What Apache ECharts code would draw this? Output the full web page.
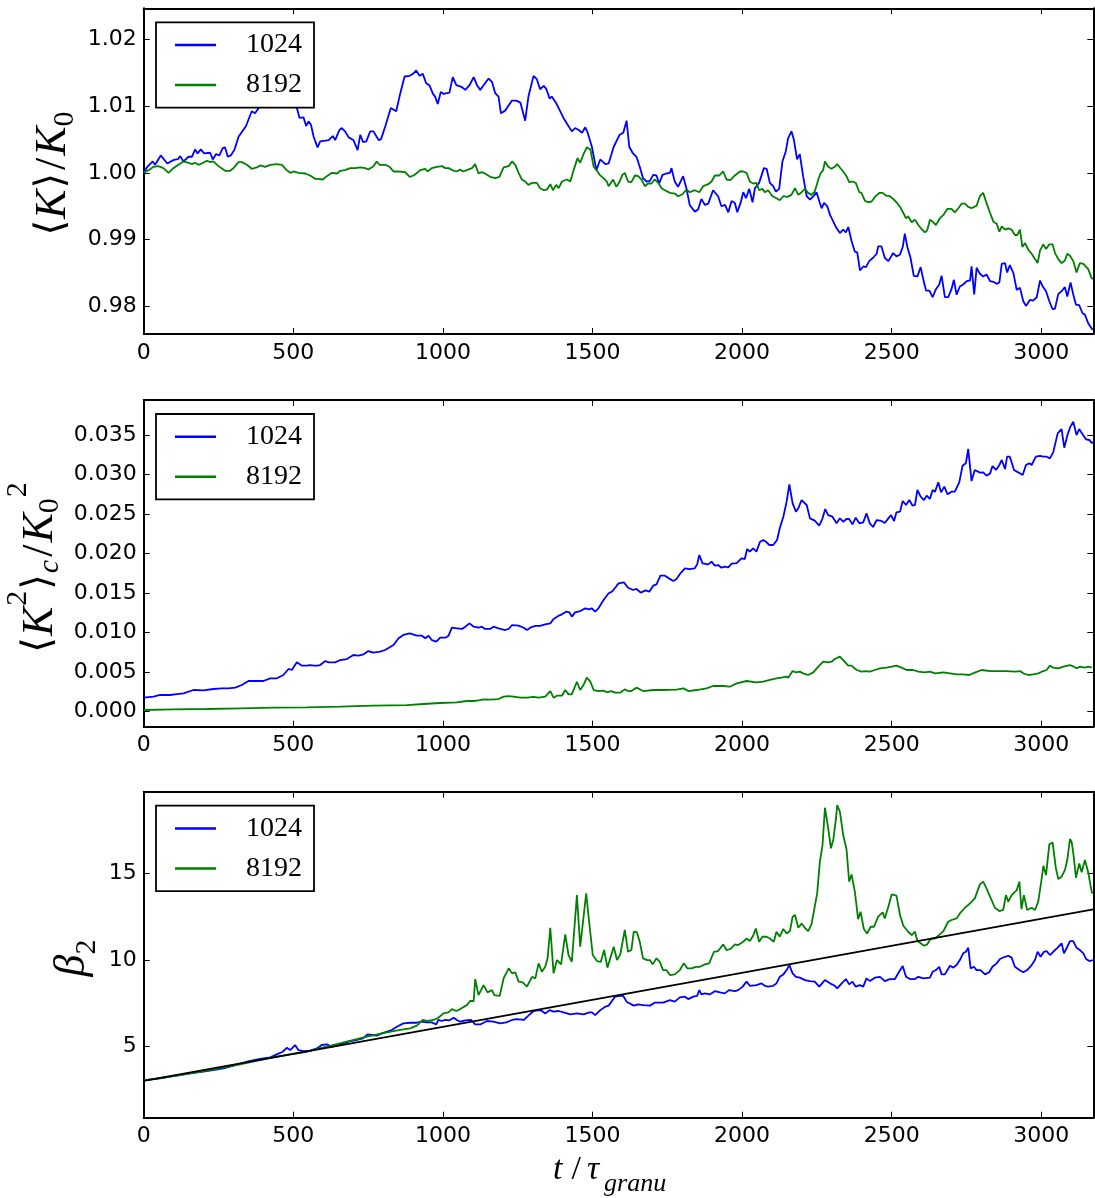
<!DOCTYPE html>
<html><head><meta charset="utf-8">
<script src="https://cdn.jsdelivr.net/npm/echarts@6/dist/echarts.min.js"></script>
<style>html,body{margin:0;padding:0;background:#fff}#c{width:1095px;height:1198px}</style>
</head><body><div id="c"></div>
<script>
// ---------- data ----------
const seriesNames = ['1024', '8192'];
const xTicks = [0, 500, 1000, 1500, 2000, 2500, 3000];
const kTicks = [0.98, 0.99, 1.00, 1.01, 1.02];
const k2Ticks = [0, 0.005, 0.010, 0.015, 0.020, 0.025, 0.030, 0.035];
const betaTicks = [5, 10, 15];

// <K>/K0
const meanK_1024 = [[0,1.0000],[12,1.0009],[30,1.0017],[38,1.0012],[57,1.0026],[79,1.0014],[99,1.0019],[116,1.0021],[122,1.0025],[133,1.0017],[150,1.0024],[161,1.0024],[172,1.0035],[180,1.0029],[191,1.0035],[202,1.0029],[222,1.0030],[231,1.0020],[242,1.0028],[253,1.0026],[264,1.0037],[272,1.0038],[281,1.0024],[291,1.0026],[303,1.0034],[317,1.0054],[342,1.0070],[361,1.0092],[372,1.0089],[389,1.0100],[405,1.0108],[425,1.0112],[445,1.0118],[465,1.0113],[485,1.0120],[500,1.0110],[512,1.0097],[521,1.0082],[534,1.0083],[543,1.0070],[551,1.0077],[559,1.0072],[568,1.0054],[581,1.0038],[590,1.0047],[607,1.0048],[618,1.0049],[623,1.0047],[632,1.0055],[640,1.0049],[654,1.0064],[662,1.0067],[673,1.0062],[685,1.0053],[701,1.0049],[715,1.0034],[724,1.0057],[733,1.0046],[744,1.0047],[757,1.0062],[768,1.0062],[785,1.0049],[793,1.0050],[807,1.0069],[813,1.0070],[826,1.0097],[844,1.0092],[855,1.0114],[872,1.0144],[889,1.0145],[900,1.0148],[911,1.0153],[922,1.0145],[933,1.0148],[944,1.0134],[955,1.0131],[967,1.0118],[974,1.0114],[983,1.0103],[993,1.0121],[1002,1.0118],[1022,1.0120],[1033,1.0143],[1045,1.0131],[1064,1.0128],[1075,1.0124],[1089,1.0131],[1103,1.0143],[1114,1.0131],[1125,1.0124],[1136,1.0131],[1153,1.0141],[1164,1.0136],[1175,1.0119],[1186,1.0114],[1194,1.0089],[1208,1.0093],[1231,1.0108],[1245,1.0108],[1259,1.0105],[1275,1.0078],[1286,1.0114],[1303,1.0145],[1314,1.0140],[1325,1.0125],[1337,1.0130],[1345,1.0126],[1357,1.0111],[1364,1.0114],[1379,1.0104],[1390,1.0094],[1403,1.0082],[1417,1.0072],[1431,1.0062],[1442,1.0067],[1454,1.0064],[1465,1.0060],[1476,1.0068],[1484,1.0060],[1498,1.0039],[1513,1.0004],[1526,1.0020],[1543,1.0013],[1554,1.0014],[1571,1.0039],[1591,1.0057],[1603,1.0060],[1614,1.0078],[1623,1.0039],[1634,1.0030],[1647,1.0024],[1658,1.0009],[1669,0.9992],[1681,0.9987],[1692,0.9988],[1703,0.9997],[1714,0.9996],[1723,0.9984],[1734,0.9997],[1747,0.9999],[1759,1.0000],[1764,1.0007],[1775,0.9987],[1786,0.9979],[1803,0.9995],[1814,0.9977],[1825,0.9952],[1842,0.9942],[1853,0.9945],[1864,0.9961],[1876,0.9952],[1887,0.9954],[1903,0.9974],[1920,0.9965],[1931,0.9950],[1943,0.9952],[1954,0.9941],[1965,0.9958],[1976,0.9955],[1984,0.9941],[1995,0.9955],[2004,0.9971],[2013,0.9962],[2024,0.9976],[2035,0.9956],[2043,0.9977],[2057,0.9985],[2073,1.0007],[2082,1.0006],[2093,0.9985],[2104,0.9980],[2113,0.9972],[2124,0.9976],[2135,1.0017],[2146,1.0032],[2154,1.0052],[2165,1.0062],[2173,1.0050],[2184,1.0020],[2193,1.0028],[2204,0.9995],[2216,0.9965],[2227,0.9960],[2240,0.9966],[2249,0.9971],[2260,0.9955],[2266,0.9947],[2274,0.9955],[2285,0.9950],[2294,0.9937],[2305,0.9927],[2316,0.9917],[2327,0.9910],[2338,0.9915],[2347,0.9911],[2355,0.9919],[2366,0.9898],[2377,0.9882],[2385,0.9881],[2394,0.9854],[2405,0.9860],[2414,0.9859],[2425,0.9868],[2438,0.9873],[2450,0.9879],[2455,0.9890],[2466,0.9890],[2477,0.9873],[2489,0.9868],[2505,0.9880],[2516,0.9875],[2528,0.9878],[2537,0.9889],[2544,0.9909],[2552,0.9890],[2563,0.9873],[2574,0.9846],[2586,0.9845],[2597,0.9859],[2606,0.9840],[2615,0.9824],[2626,0.9824],[2637,0.9814],[2648,0.9826],[2659,0.9833],[2667,0.9846],[2678,0.9814],[2689,0.9814],[2700,0.9826],[2708,0.9840],[2717,0.9818],[2728,0.9830],[2739,0.9833],[2751,0.9838],[2762,0.9839],[2767,0.9860],[2776,0.9818],[2784,0.9858],[2795,0.9849],[2806,0.9845],[2817,0.9848],[2829,0.9838],[2840,0.9837],[2851,0.9834],[2860,0.9836],[2868,0.9864],[2879,0.9865],[2886,0.9851],[2895,0.9862],[2907,0.9850],[2918,0.9825],[2929,0.9828],[2940,0.9808],[2949,0.9801],[2962,0.9810],[2973,0.9809],[2985,0.9814],[2996,0.9839],[3005,0.9830],[3016,0.9823],[3027,0.9808],[3038,0.9796],[3046,0.9797],[3057,0.9819],[3068,0.9823],[3079,0.9829],[3087,0.9815],[3098,0.9836],[3107,0.9818],[3116,0.9803],[3127,0.9802],[3138,0.9790],[3146,0.9788],[3157,0.9775],[3172,0.9765]];
const meanK_8192 = [[0,1.0000],[16,1.0004],[33,1.0009],[49,1.0010],[66,1.0007],[83,1.0000],[99,1.0007],[116,1.0012],[133,1.0017],[150,1.0015],[161,1.0013],[172,1.0015],[183,1.0012],[194,1.0014],[211,1.0018],[224,1.0016],[233,1.0017],[250,1.0010],[272,1.0003],[289,1.0003],[300,1.0007],[317,1.0016],[328,1.0016],[345,1.0012],[361,1.0006],[378,1.0008],[389,1.0011],[406,1.0009],[423,1.0012],[445,1.0013],[462,1.0012],[478,1.0004],[490,1.0000],[501,1.0002],[517,1.0000],[540,0.9999],[556,0.9996],[573,0.9991],[584,0.9991],[599,0.9990],[612,0.9995],[629,1.0000],[646,0.9999],[657,1.0003],[673,1.0004],[690,1.0007],[707,1.0007],[724,1.0008],[740,1.0007],[751,1.0005],[768,1.0010],[779,1.0017],[788,1.0012],[807,1.0012],[822,1.0009],[835,1.0002],[852,1.0002],[874,1.0001],[889,0.9994],[902,0.9996],[911,0.9999],[924,1.0004],[941,1.0006],[949,1.0002],[963,1.0007],[980,1.0009],[997,1.0010],[1008,1.0007],[1019,1.0007],[1036,1.0003],[1047,1.0002],[1058,1.0005],[1067,1.0002],[1080,1.0004],[1097,1.0007],[1108,1.0013],[1119,0.9999],[1130,1.0001],[1141,0.9999],[1158,0.9994],[1175,0.9992],[1189,0.9994],[1203,1.0008],[1220,1.0010],[1231,1.0017],[1242,1.0012],[1253,1.0000],[1264,0.9990],[1275,0.9987],[1286,0.9982],[1298,0.9985],[1314,0.9985],[1325,0.9977],[1337,0.9974],[1348,0.9975],[1359,0.9983],[1368,0.9974],[1379,0.9982],[1387,0.9977],[1398,0.9987],[1415,0.9990],[1426,0.9987],[1437,1.0004],[1450,1.0022],[1459,1.0015],[1470,1.0028],[1481,1.0038],[1493,1.0035],[1504,1.0009],[1515,1.0003],[1524,0.9997],[1537,0.9992],[1548,0.9987],[1554,0.9980],[1569,0.9990],[1580,0.9979],[1591,0.9987],[1600,0.9997],[1608,1.0000],[1619,0.9987],[1630,0.9986],[1642,0.9996],[1653,0.9995],[1664,0.9990],[1675,0.9980],[1686,0.9984],[1697,0.9984],[1708,0.9990],[1720,0.9985],[1731,0.9977],[1742,0.9974],[1759,0.9970],[1775,0.9969],[1786,0.9965],[1801,0.9968],[1814,0.9975],[1825,0.9971],[1842,0.9974],[1857,0.9971],[1870,0.9980],[1887,0.9983],[1898,0.9987],[1909,0.9996],[1924,0.9996],[1937,1.0002],[1948,0.9990],[1961,0.9989],[1976,0.9996],[1993,1.0002],[2004,1.0002],[2015,1.0000],[2026,0.9987],[2037,0.9984],[2048,0.9985],[2057,0.9974],[2068,0.9976],[2076,0.9971],[2087,0.9974],[2102,0.9965],[2115,0.9962],[2126,0.9959],[2138,0.9965],[2151,0.9964],[2165,0.9967],[2177,0.9977],[2188,0.9967],[2199,0.9971],[2210,0.9976],[2221,0.9970],[2232,0.9967],[2243,0.9972],[2255,0.9990],[2262,0.9999],[2271,1.0004],[2277,1.0017],[2288,1.0009],[2299,1.0006],[2310,1.0009],[2318,1.0013],[2327,1.0008],[2338,1.0002],[2349,0.9995],[2358,0.9986],[2369,0.9987],[2380,0.9985],[2392,0.9971],[2399,0.9970],[2411,0.9958],[2422,0.9956],[2433,0.9957],[2444,0.9964],[2459,0.9970],[2470,0.9970],[2481,0.9966],[2494,0.9965],[2505,0.9961],[2516,0.9956],[2528,0.9949],[2539,0.9940],[2548,0.9932],[2555,0.9935],[2567,0.9926],[2578,0.9930],[2589,0.9922],[2600,0.9916],[2611,0.9911],[2619,0.9914],[2628,0.9930],[2639,0.9926],[2648,0.9922],[2661,0.9932],[2673,0.9937],[2686,0.9946],[2700,0.9946],[2711,0.9941],[2723,0.9947],[2734,0.9954],[2745,0.9954],[2756,0.9949],[2767,0.9947],[2784,0.9951],[2795,0.9965],[2806,0.9970],[2817,0.9955],[2829,0.9940],[2840,0.9927],[2851,0.9924],[2860,0.9912],[2868,0.9920],[2879,0.9915],[2890,0.9917],[2901,0.9915],[2912,0.9907],[2920,0.9907],[2929,0.9915],[2937,0.9889],[2946,0.9895],[2957,0.9885],[2968,0.9879],[2979,0.9871],[2988,0.9865],[2996,0.9884],[3007,0.9893],[3016,0.9886],[3027,0.9893],[3038,0.9893],[3046,0.9880],[3057,0.9871],[3068,0.9865],[3079,0.9869],[3087,0.9879],[3096,0.9876],[3107,0.9868],[3118,0.9851],[3129,0.9865],[3141,0.9864],[3146,0.9865],[3157,0.9856],[3168,0.9843],[3172,0.9841]];

// <K^2>_c/K0^2
const K2c_1024 = [[0,0.00177],[33,0.00190],[55,0.00211],[88,0.00211],[111,0.00223],[133,0.00232],[166,0.00274],[200,0.00270],[233,0.00287],[261,0.00295],[283,0.00295],[306,0.00304],[328,0.00337],[350,0.00388],[400,0.00388],[423,0.00422],[445,0.00422],[467,0.00464],[484,0.00540],[495,0.00527],[512,0.00624],[529,0.00582],[545,0.00582],[556,0.00590],[568,0.00582],[579,0.00582],[590,0.00590],[607,0.00641],[618,0.00624],[640,0.00624],[657,0.00653],[679,0.00666],[701,0.00717],[718,0.00708],[735,0.00725],[751,0.00767],[768,0.00746],[790,0.00759],[807,0.00780],[835,0.00843],[852,0.00928],[868,0.00970],[889,0.00991],[913,0.00961],[930,0.00961],[941,0.00928],[952,0.00961],[963,0.00906],[978,0.00885],[991,0.00936],[1008,0.00936],[1019,0.00961],[1030,0.01062],[1047,0.01054],[1064,0.01046],[1075,0.01075],[1089,0.01117],[1103,0.01075],[1119,0.01062],[1130,0.01075],[1141,0.01046],[1158,0.01046],[1169,0.01075],[1186,0.01054],[1208,0.01033],[1220,0.01046],[1231,0.01096],[1253,0.01088],[1270,0.01062],[1281,0.01033],[1292,0.01062],[1309,0.01084],[1325,0.01084],[1342,0.01105],[1359,0.01117],[1370,0.01172],[1387,0.01214],[1398,0.01231],[1412,0.01265],[1423,0.01256],[1431,0.01202],[1442,0.01256],[1459,0.01273],[1476,0.01307],[1487,0.01294],[1498,0.01307],[1509,0.01265],[1520,0.01307],[1537,0.01412],[1554,0.01497],[1565,0.01518],[1576,0.01568],[1587,0.01623],[1593,0.01636],[1605,0.01636],[1619,0.01568],[1636,0.01539],[1647,0.01552],[1661,0.01505],[1678,0.01535],[1690,0.01518],[1703,0.01594],[1714,0.01611],[1727,0.01720],[1742,0.01720],[1756,0.01686],[1770,0.01653],[1781,0.01678],[1794,0.01750],[1809,0.01813],[1825,0.01804],[1842,0.01813],[1850,0.01863],[1857,0.01982],[1868,0.01876],[1887,0.01863],[1898,0.01897],[1909,0.01847],[1920,0.01855],[1931,0.01821],[1942,0.01834],[1954,0.01826],[1965,0.01872],[1982,0.01880],[1998,0.01939],[2009,0.01931],[2017,0.02057],[2026,0.02024],[2037,0.02066],[2048,0.02024],[2060,0.02150],[2071,0.02171],[2082,0.02142],[2091,0.02108],[2104,0.02108],[2117,0.02171],[2126,0.02319],[2138,0.02466],[2149,0.02656],[2158,0.02875],[2169,0.02635],[2180,0.02530],[2188,0.02572],[2199,0.02677],[2216,0.02614],[2227,0.02445],[2243,0.02416],[2258,0.02353],[2269,0.02445],[2278,0.02563],[2288,0.02487],[2302,0.02466],[2307,0.02479],[2316,0.02382],[2327,0.02445],[2338,0.02403],[2349,0.02437],[2358,0.02437],[2369,0.02369],[2380,0.02454],[2392,0.02382],[2405,0.02395],[2416,0.02508],[2427,0.02382],[2438,0.02336],[2450,0.02424],[2466,0.02412],[2477,0.02386],[2489,0.02445],[2498,0.02487],[2508,0.02412],[2516,0.02521],[2528,0.02530],[2537,0.02664],[2548,0.02614],[2559,0.02677],[2570,0.02605],[2578,0.02614],[2586,0.02804],[2597,0.02719],[2608,0.02677],[2617,0.02732],[2628,0.02690],[2637,0.02804],[2645,0.02783],[2656,0.02901],[2665,0.02774],[2676,0.02846],[2687,0.02749],[2700,0.02783],[2711,0.02783],[2726,0.02901],[2737,0.03111],[2748,0.03141],[2756,0.03322],[2767,0.02917],[2778,0.03057],[2795,0.03023],[2806,0.03027],[2817,0.02985],[2829,0.03014],[2837,0.03107],[2849,0.03057],[2860,0.03120],[2868,0.03183],[2879,0.03069],[2886,0.03225],[2895,0.03225],[2909,0.03057],[2923,0.03027],[2938,0.02993],[2949,0.03120],[2960,0.03141],[2968,0.03120],[2982,0.03225],[2996,0.03234],[3007,0.03225],[3018,0.03225],[3029,0.03204],[3040,0.03280],[3055,0.03520],[3068,0.03575],[3077,0.03339],[3087,0.03491],[3096,0.03592],[3107,0.03668],[3118,0.03499],[3127,0.03575],[3138,0.03508],[3150,0.03444],[3161,0.03436],[3169,0.03394],[3172,0.03415]];
const K2c_8192 = [[0,0.00021],[99,0.00030],[211,0.00034],[322,0.00042],[434,0.00051],[545,0.00055],[657,0.00063],[768,0.00076],[880,0.00084],[935,0.00097],[991,0.00110],[1047,0.00118],[1080,0.00135],[1103,0.00135],[1108,0.00152],[1119,0.00143],[1136,0.00156],[1158,0.00152],[1186,0.00160],[1203,0.00190],[1220,0.00198],[1236,0.00190],[1259,0.00177],[1281,0.00177],[1303,0.00186],[1320,0.00177],[1342,0.00190],[1359,0.00261],[1370,0.00177],[1381,0.00202],[1398,0.00202],[1409,0.00274],[1420,0.00219],[1431,0.00219],[1448,0.00379],[1459,0.00274],[1470,0.00337],[1481,0.00430],[1493,0.00379],[1504,0.00274],[1520,0.00261],[1537,0.00266],[1548,0.00245],[1562,0.00261],[1576,0.00240],[1593,0.00240],[1608,0.00282],[1619,0.00261],[1630,0.00261],[1647,0.00304],[1669,0.00261],[1703,0.00274],[1736,0.00274],[1781,0.00278],[1805,0.00295],[1820,0.00261],[1848,0.00274],[1881,0.00295],[1903,0.00325],[1937,0.00325],[1959,0.00316],[1982,0.00358],[2015,0.00388],[2048,0.00371],[2071,0.00379],[2093,0.00401],[2115,0.00422],[2132,0.00430],[2146,0.00443],[2154,0.00430],[2169,0.00514],[2180,0.00497],[2193,0.00506],[2204,0.00485],[2221,0.00464],[2238,0.00497],[2255,0.00569],[2271,0.00632],[2288,0.00624],[2299,0.00632],[2310,0.00666],[2327,0.00696],[2338,0.00653],[2355,0.00582],[2366,0.00582],[2383,0.00527],[2399,0.00506],[2414,0.00514],[2427,0.00506],[2444,0.00527],[2461,0.00548],[2483,0.00557],[2500,0.00569],[2516,0.00582],[2533,0.00557],[2550,0.00527],[2572,0.00527],[2589,0.00506],[2611,0.00497],[2628,0.00506],[2645,0.00485],[2673,0.00497],[2695,0.00485],[2717,0.00472],[2739,0.00472],[2759,0.00464],[2778,0.00493],[2801,0.00527],[2829,0.00514],[2856,0.00514],[2884,0.00514],[2912,0.00506],[2929,0.00514],[2940,0.00485],[2946,0.00506],[2957,0.00464],[2973,0.00472],[2990,0.00485],[3007,0.00514],[3018,0.00527],[3029,0.00582],[3040,0.00557],[3057,0.00548],[3074,0.00569],[3096,0.00590],[3109,0.00569],[3118,0.00548],[3129,0.00569],[3146,0.00557],[3157,0.00569],[3169,0.00557]];

// beta_2
const beta_1024 = [[0,3.03],[55,3.15],[99,3.28],[155,3.44],[211,3.57],[267,3.73],[300,3.88],[345,4.11],[389,4.27],[423,4.36],[445,4.54],[465,4.69],[478,4.92],[490,4.79],[506,5.08],[517,4.79],[534,4.73],[556,4.75],[579,4.88],[595,5.08],[612,5.12],[629,4.98],[646,5.04],[668,5.17],[690,5.31],[712,5.37],[733,5.46],[748,5.69],[763,5.66],[779,5.62],[796,5.75],[813,5.85],[829,5.95],[846,6.14],[868,6.33],[891,6.37],[913,6.37],[930,6.43],[946,6.39],[963,6.39],[978,6.27],[985,6.53],[997,6.47],[1008,6.53],[1022,6.51],[1036,6.66],[1047,6.53],[1058,6.43],[1075,6.51],[1094,6.53],[1108,6.27],[1125,6.27],[1147,6.47],[1169,6.43],[1192,6.33],[1212,6.39],[1231,6.53],[1247,6.58],[1270,6.53],[1286,6.78],[1303,7.05],[1320,7.10],[1331,7.05],[1342,6.91],[1357,7.10],[1370,7.01],[1387,7.05],[1403,6.97],[1426,6.85],[1448,6.91],[1470,6.85],[1490,6.97],[1498,6.97],[1509,6.81],[1526,7.10],[1543,7.30],[1554,7.36],[1565,7.63],[1576,7.88],[1593,7.93],[1603,7.92],[1614,7.59],[1638,7.36],[1653,7.43],[1669,7.39],[1692,7.36],[1708,7.53],[1736,7.53],[1759,7.68],[1775,7.59],[1792,7.84],[1809,7.88],[1820,7.74],[1837,7.88],[1850,7.93],[1857,8.26],[1864,8.01],[1876,8.07],[1892,8.01],[1909,8.20],[1926,8.13],[1942,8.07],[1957,8.26],[1976,8.20],[1987,8.26],[2002,8.46],[2015,8.75],[2026,8.51],[2048,8.55],[2065,8.65],[2076,8.51],[2087,8.46],[2104,8.51],[2115,8.65],[2126,9.03],[2138,9.17],[2149,9.42],[2158,9.71],[2169,9.23],[2180,9.03],[2193,8.98],[2210,8.84],[2227,8.78],[2243,8.75],[2258,8.46],[2277,8.84],[2294,8.65],[2310,8.51],[2318,8.36],[2333,8.65],[2347,8.90],[2358,8.59],[2369,8.75],[2380,8.46],[2394,8.55],[2405,8.46],[2416,8.94],[2427,8.78],[2444,8.98],[2461,9.03],[2477,8.78],[2494,8.90],[2511,8.90],[2525,9.32],[2537,9.65],[2548,9.03],[2561,8.90],[2578,8.90],[2589,9.03],[2606,8.94],[2628,8.98],[2637,9.32],[2648,9.42],[2659,9.61],[2667,9.17],[2678,9.17],[2695,9.67],[2706,9.56],[2717,9.71],[2728,10.00],[2739,10.39],[2748,10.48],[2756,10.71],[2764,9.52],[2775,9.61],[2784,9.42],[2797,9.42],[2812,9.17],[2826,9.29],[2837,9.61],[2851,9.81],[2862,10.06],[2879,10.19],[2890,10.25],[2901,10.14],[2912,9.61],[2927,9.42],[2940,9.29],[2953,9.42],[2968,9.71],[2979,10.00],[2988,10.48],[2998,10.19],[3009,10.48],[3018,10.52],[3029,10.29],[3040,10.48],[3054,10.71],[3068,10.97],[3076,10.39],[3087,10.77],[3096,11.10],[3107,11.10],[3118,10.71],[3129,10.58],[3141,10.39],[3150,10.06],[3161,9.94],[3172,10.00]];
const beta_8192 = [[0,3.03],[99,3.28],[211,3.59],[322,3.96],[423,4.34],[490,4.54],[545,4.69],[612,4.98],[679,5.27],[746,5.56],[813,5.81],[857,5.95],[891,6.04],[913,6.20],[933,6.53],[949,6.47],[969,6.53],[985,6.66],[1002,6.91],[1019,6.97],[1030,7.16],[1045,7.05],[1058,7.16],[1080,7.39],[1091,7.63],[1103,7.63],[1108,8.90],[1119,7.97],[1136,8.55],[1149,8.13],[1164,8.26],[1172,7.97],[1190,7.93],[1203,8.94],[1220,9.52],[1231,9.23],[1242,9.29],[1253,8.75],[1267,8.71],[1281,8.46],[1298,9.03],[1309,8.94],[1320,9.81],[1331,9.32],[1342,9.61],[1350,10.10],[1359,11.87],[1370,9.23],[1381,10.00],[1395,9.75],[1409,11.49],[1420,10.29],[1431,9.90],[1448,13.76],[1459,10.77],[1479,13.86],[1490,12.03],[1501,10.29],[1515,9.94],[1528,9.90],[1539,10.58],[1550,9.56],[1571,10.77],[1582,10.00],[1593,10.33],[1608,11.74],[1619,10.48],[1630,10.58],[1638,11.64],[1649,11.60],[1658,11.06],[1669,10.10],[1683,10.00],[1692,10.00],[1701,9.75],[1714,10.10],[1725,9.90],[1736,9.42],[1747,9.42],[1759,9.13],[1775,9.17],[1792,9.42],[1805,9.81],[1817,9.52],[1831,9.52],[1846,9.61],[1859,9.61],[1876,9.75],[1890,9.81],[1906,10.48],[1920,10.52],[1937,10.91],[1948,10.58],[1961,10.64],[1976,10.91],[1987,10.87],[2004,11.06],[2015,11.25],[2026,11.10],[2037,11.41],[2046,11.83],[2057,11.06],[2068,11.35],[2082,11.35],[2093,11.25],[2106,11.06],[2115,11.64],[2126,11.35],[2138,11.80],[2149,11.54],[2160,11.68],[2169,12.51],[2177,12.61],[2188,11.87],[2199,12.12],[2210,11.87],[2221,11.68],[2232,12.07],[2243,13.09],[2251,13.86],[2260,15.69],[2269,16.66],[2277,18.82],[2288,17.63],[2297,16.47],[2305,16.97],[2314,18.20],[2318,18.98],[2327,18.59],[2338,17.24],[2349,16.43],[2358,14.54],[2366,14.96],[2377,13.96],[2388,12.37],[2396,12.80],[2407,11.80],[2418,11.54],[2430,11.93],[2441,11.93],[2455,12.51],[2470,12.76],[2477,12.41],[2489,13.09],[2500,13.80],[2516,13.73],[2528,12.61],[2539,11.99],[2555,11.64],[2567,11.45],[2578,11.64],[2586,11.10],[2597,10.97],[2608,10.83],[2619,10.91],[2630,11.22],[2645,11.25],[2661,11.49],[2673,11.68],[2689,12.22],[2700,12.32],[2717,12.41],[2728,12.70],[2745,13.03],[2762,13.28],[2778,13.57],[2795,14.38],[2806,14.54],[2817,14.15],[2829,13.67],[2845,13.03],[2860,12.84],[2873,12.90],[2882,13.76],[2890,13.38],[2901,13.76],[2918,14.05],[2927,14.54],[2934,12.95],[2942,13.76],[2953,12.90],[2968,13.03],[2979,12.90],[2990,13.38],[3000,14.54],[3007,15.46],[3016,14.92],[3027,16.70],[3038,16.81],[3049,15.31],[3057,14.69],[3068,14.83],[3079,15.21],[3087,15.79],[3096,17.01],[3102,16.81],[3109,15.93],[3116,14.77],[3127,15.60],[3135,15.08],[3146,15.79],[3157,15.08],[3169,13.92],[3172,13.86]];
const beta_fit = [[0,3.0],[3174,12.94]];

// ---------- chart ----------
const chart = echarts.init(document.getElementById('c'), null, {renderer: 'canvas'});
const GL = 143.7, GW = 949.6, XMAX = 3174;
const gridBoxes = [
  {top: 8.3, height: 325.7, ymin: 0.9759, ymax: 1.0246, ticks: kTicks, dec: 2},
  {top: 400, height: 326.7, ymin: -0.0019, ymax: 0.03942, ticks: k2Ticks, dec: 3},
  {top: 791.7, height: 326, ymin: 0.87, ymax: 19.75, ticks: betaTicks, dec: 0}
];
const BLUE = '#0000ff', GREEN = '#008000';
const frame = {show: true, onZero: false, lineStyle: {color: '#000', width: 2}};
const tickStyle = {color: '#000', width: 1};
const tickFont = {fontFamily: 'DejaVu Sans', fontSize: 22, color: '#000'};

const grid = [], xAxis = [], yAxis = [], legend = [], series = [];
gridBoxes.forEach((g, i) => {
  grid.push({left: GL, top: g.top, width: GW, height: g.height, containLabel: false});
  xAxis.push({type: 'value', gridIndex: i, position: 'bottom', min: 0, max: XMAX,
    axisLine: frame, axisTick: {show: true, inside: true, length: 6, customValues: xTicks, lineStyle: tickStyle},
    axisLabel: Object.assign({show: true, customValues: xTicks, margin: 8, formatter: v => String(v)}, tickFont),
    splitLine: {show: false}});
  xAxis.push({type: 'value', gridIndex: i, position: 'top', min: 0, max: XMAX,
    axisLine: frame, axisTick: {show: true, inside: true, length: 6, customValues: xTicks, lineStyle: tickStyle},
    axisLabel: {show: false}, splitLine: {show: false}});
  yAxis.push({type: 'value', gridIndex: i, position: 'left', min: g.ymin, max: g.ymax,
    axisLine: frame, axisTick: {show: true, inside: true, length: 6, customValues: g.ticks, lineStyle: tickStyle},
    axisLabel: Object.assign({show: true, customValues: g.ticks, margin: 7, formatter: v => Number(v).toFixed(g.dec)}, tickFont),
    splitLine: {show: false}});
  yAxis.push({type: 'value', gridIndex: i, position: 'right', min: g.ymin, max: g.ymax,
    axisLine: frame, axisTick: {show: true, inside: true, length: 6, customValues: g.ticks, lineStyle: tickStyle},
    axisLabel: {show: false}, splitLine: {show: false}});
  legend.push({
    left: GL + 12.3, top: g.top + 14, orient: 'vertical', data: seriesNames,
    icon: 'rect', itemWidth: 41, itemHeight: 2.5, itemGap: 10,
    padding: [7.7, 12, 7.7, 19], backgroundColor: '#fff', borderColor: '#000', borderWidth: 1.8, borderRadius: 0,
    textStyle: {fontFamily: 'Liberation Serif', fontSize: 28, lineHeight: 30, color: '#000', padding: [0, 0, 0, 25]},
    selectedMode: false, z: 10
  });
});

function line(name, data, i, color, z) {
  return {name: name, type: 'line', xAxisIndex: 2 * i, yAxisIndex: 2 * i, data: data,
    showSymbol: false, symbol: 'none', smooth: false, clip: true, animation: false, z: z || 2,
    lineStyle: {color: color, width: 1.8}, itemStyle: {color: color}};
}
series.push(line(seriesNames[0], meanK_1024, 0, BLUE));
series.push(line(seriesNames[1], meanK_8192, 0, GREEN));
series.push(line(seriesNames[0], K2c_1024, 1, BLUE));
series.push(line(seriesNames[1], K2c_8192, 1, GREEN));
series.push(line(seriesNames[0], beta_1024, 2, BLUE));
series.push(line(seriesNames[1], beta_8192, 2, GREEN));
series.push(line('fit', beta_fit, 2, '#000', 3));

// axis titles: all tokens top-aligned, vertical offset via top padding
function mathRich(P, s, b, L) {
  const it = {fontFamily: 'Liberation Serif', fontStyle: 'italic', fontSize: 44, lineHeight: L, verticalAlign: 'top', padding: [P, 0, 0, 0], color: '#000'};
  return {
    m: it,
    n: Object.assign({}, it, {fontStyle: 'normal', padding: [P, 2, 0, 2]}),
    b: Object.assign({}, it, {fontStyle: 'normal', fontFamily: 'DejaVu Sans', fontSize: 40, padding: [P + 2, 1, 0, 1]}),
    sb: {fontFamily: 'Liberation Serif', fontSize: 30, lineHeight: L, verticalAlign: 'top', padding: [b, 0, 0, 0], color: '#000'},
    sbi: {fontFamily: 'Liberation Serif', fontStyle: 'italic', fontSize: 30, lineHeight: L, verticalAlign: 'top', padding: [b, 1, 0, 0], color: '#000'},
    sp: {fontFamily: 'Liberation Serif', fontSize: 30, lineHeight: L, verticalAlign: 'top', padding: [s, 0, 0, 1], color: '#000'}
  };
}
const graphic = [
  {type: 'text', x: 55.5, y: 174, rotation: Math.PI / 2, silent: true,
    style: {text: '{b|⟨}{m|K}{b|⟩}{n|/}{m|K}{sb|0}', rich: mathRich(0, 0, 19, 49), align: 'center', verticalAlign: 'middle'}},
  {type: 'text', x: 34, y: 568, rotation: Math.PI / 2, silent: true,
    style: {text: '{b|⟨}{m|K}{sp|2}{b|⟩}{sbi|c}{n|/}{m|K}{sb|0}{sp|2}', rich: mathRich(15, 0, 32, 62), align: 'center', verticalAlign: 'middle'}},
  {type: 'text', x: 76, y: 958, rotation: Math.PI / 2, silent: true,
    style: {text: '{m|β}{sb|2}', rich: mathRich(0, 0, 22, 52), align: 'center', verticalAlign: 'middle'}},
  {type: 'text', x: 553, y: 1153.5, silent: true,
    style: {text: '{t|t}{n|/}{m|τ}{s|granu}', align: 'left', verticalAlign: 'top',
      rich: {
        t: {fontFamily: 'Liberation Serif', fontStyle: 'italic', fontSize: 34, lineHeight: 44, verticalAlign: 'top', padding: [0, 5, 0, 0], color: '#000'},
        n: {fontFamily: 'Liberation Serif', fontSize: 34, lineHeight: 44, verticalAlign: 'top', padding: [0, 4, 0, 4], color: '#000'},
        m: {fontFamily: 'Liberation Serif', fontStyle: 'italic', fontSize: 34, lineHeight: 44, verticalAlign: 'top', padding: [0, 3, 0, 2], color: '#000'},
        s: {fontFamily: 'Liberation Serif', fontStyle: 'italic', fontSize: 26, lineHeight: 44, verticalAlign: 'top', padding: [17.5, 0, 0, 2], color: '#000'}
      }}}
];

chart.setOption({
  backgroundColor: '#fff',
  animation: false,
  grid: grid, xAxis: xAxis, yAxis: yAxis, legend: legend, series: series, graphic: graphic
});
</script>
</body></html>
